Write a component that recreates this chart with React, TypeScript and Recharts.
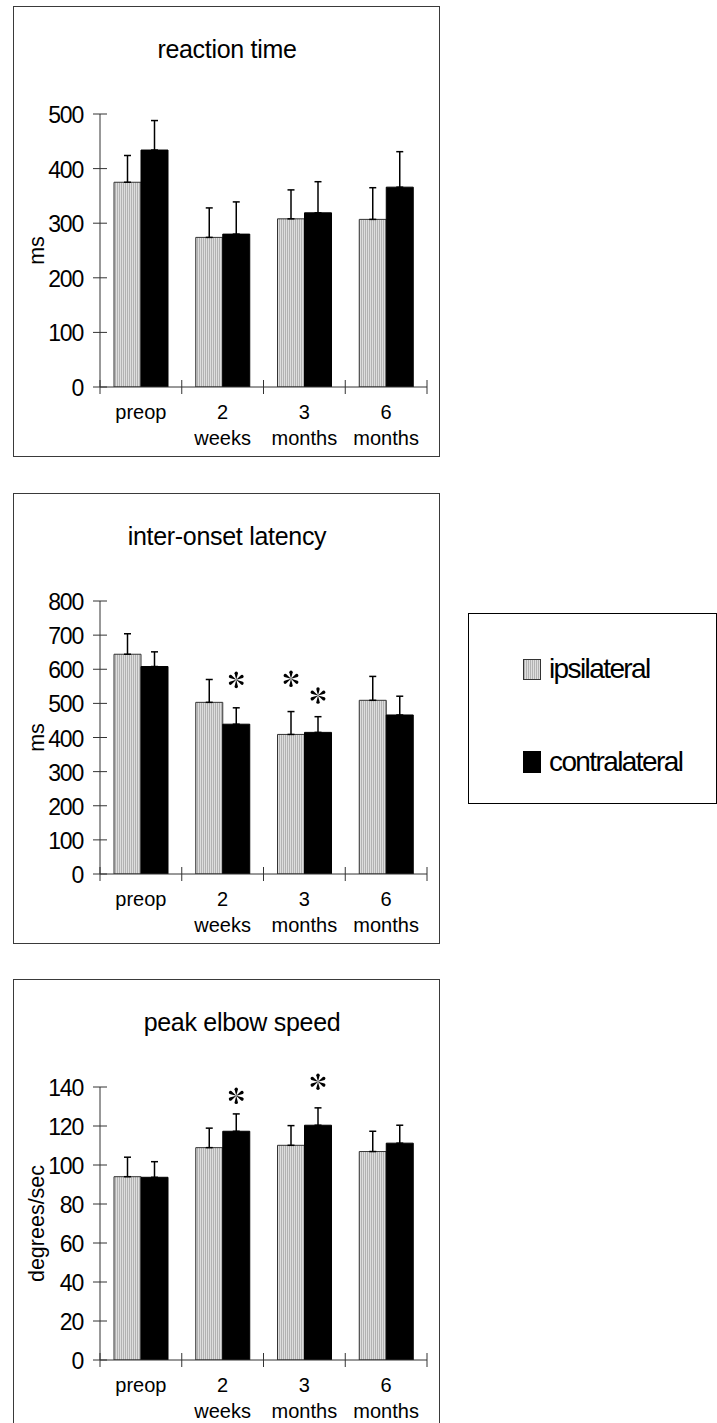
import React from 'react';
import { BarChart, Bar, XAxis, YAxis, ErrorBar, LabelList } from 'recharts';

// ---------- data ----------
const categories = ['preop', '2 weeks', '3 months', '6 months'];
const seriesNames = ['ipsilateral', 'contralateral'];

const reactionIpsi = [375, 274, 308, 307];
const reactionIpsiErr = [49, 54, 53, 58];
const reactionContra = [434, 280, 319, 366];
const reactionContraErr = [54, 59, 57, 65];
const reactionTicks = [0, 100, 200, 300, 400, 500];

const latencyIpsi = [644, 503, 409, 509];
const latencyIpsiErr = [60, 67, 67, 70];
const latencyContra = [608, 439, 415, 466];
const latencyContraErr = [43, 48, 46, 55];
const latencyIpsiStar = [null, null, 572, null];
const latencyContraStar = [null, 569, 523, null];
const latencyTicks = [0, 100, 200, 300, 400, 500, 600, 700, 800];

const speedIpsi = [94.0, 108.9, 110.1, 106.9];
const speedIpsiErr = [10.0, 10.0, 10.1, 10.4];
const speedContra = [93.7, 117.3, 120.4, 111.2];
const speedContraErr = [8.0, 8.9, 8.9, 9.2];
const speedContraStar = [null, 135.5, 142.7, null];
const speedTicks = [0, 20, 40, 60, 80, 100, 120, 140];

const noStars = [null, null, null, null];

function buildRows(ipsi: number[], ipsiErr: number[], contra: number[], contraErr: number[], ipsiStar: (number | null)[], contraStar: (number | null)[]) {
  return categories.map((c, i) => ({
    cat: c,
    ipsi: ipsi[i],
    ipsiErr: [0, ipsiErr[i]],
    contra: contra[i],
    contraErr: [0, contraErr[i]],
    ipsiStar: ipsiStar[i],
    contraStar: contraStar[i],
  }));
}

// ---------- layout ----------
const FONT = "'Liberation Sans', Arial, sans-serif";
const PANEL_W = 427;
const PANEL_H = 451;
const PLOT_LEFT = 87;
const PLOT_TOP = 108;
const PLOT_BOTTOM = 381;
const PLOT_RIGHT = 414;
const BAND = (PLOT_RIGHT - PLOT_LEFT) / categories.length;
const AXIS = '#333';
const HATCH_DARK = '#b2b2b2';
const HATCH_LIGHT = '#dedede';

const YTick = (props: any) => {
  const { x, y, payload } = props;
  return (
    <g>
      <line x1={x - 7} x2={x + 7} y1={y} y2={y} stroke={AXIS} strokeWidth={1} />
      <text x={x - 17} y={y + 9} textAnchor="end" fontSize={23} letterSpacing={-1.2} fontFamily={FONT} fill="#000">
        {payload.value}
      </text>
    </g>
  );
};

const XTick = (props: any) => {
  const { x, y, payload } = props;
  const label = String(payload.value);
  const sp = label.indexOf(' ');
  const lines = sp < 0 ? [label] : [label.slice(0, sp), label.slice(sp + 1)];
  const isLast = label === categories[categories.length - 1];
  const half = BAND / 2;
  return (
    <g>
      <line x1={x - half} x2={x - half} y1={y - 7} y2={y + 7} stroke={AXIS} strokeWidth={1} />
      {isLast && <line x1={x + half} x2={x + half} y1={y - 7} y2={y + 7} stroke={AXIS} strokeWidth={1} />}
      {lines.map((t, i) => (
        <text key={i} x={x} y={y + 32 + i * 26} textAnchor="middle" fontSize={20} fontFamily={FONT} fill="#000">
          {t}
        </text>
      ))}
    </g>
  );
};

const Asterisk = ({ cx, cy }: { cx: number; cy: number }) => (
  <g transform={`translate(${cx},${cy})`}>
    {[0, 60, 120, 180, 240, 300].map((a) => (
      <path key={a} d="M0,0 L-1.7,-6.6 A1.7,1.7 0 0 1 1.7,-6.6 Z" transform={`rotate(${a})`} fill="#000" />
    ))}
  </g>
);

const starRenderer = (rows: any[], valueKey: string, starKey: string) => (props: any) => {
  const vb = props.viewBox || props;
  const { x, y, width, height } = vb;
  const idx = props.index;
  const row = rows[idx];
  if (!row || row[starKey] == null) return null;
  const k = height / row[valueKey];
  const cy = y + height - row[starKey] * k;
  return <Asterisk cx={x + width / 2} cy={cy} />;
};

type PanelProps = {
  pid: string;
  top: number;
  title: string;
  titleX: number;
  yLabel: string;
  ticks: number[];
  rows: any[];
};

function Panel({ pid, top, title, titleX, yLabel, ticks, rows }: PanelProps) {
  const hatch = `hatch-${pid}`;
  return (
    <div style={{ position: 'absolute', left: 13, top, width: PANEL_W, height: PANEL_H }}>
      <div
        style={{
          position: 'absolute', left: 0, top: 0, width: PANEL_W, height: PANEL_H,
          border: '1px solid #3a3a3a', boxSizing: 'border-box',
        }}
      />
      <div style={{ position: 'absolute', left: 0, top: 0 }}>
        <BarChart
          width={PANEL_W}
          height={PANEL_H}
          data={rows}
          margin={{ top: PLOT_TOP, right: PANEL_W - PLOT_RIGHT, left: 0, bottom: PANEL_H - PLOT_BOTTOM - 60 }}
          barGap={0}
        >
          <defs>
            <pattern id={hatch} width={2} height={4} patternUnits="userSpaceOnUse">
              <rect width={2} height={4} fill={HATCH_LIGHT} />
              <rect width={1} height={4} fill={HATCH_DARK} />
            </pattern>
          </defs>
          <XAxis
            dataKey="cat"
            height={60}
            interval={0}
            tickSize={0}
            tickMargin={0}
            tickLine={false}
            axisLine={{ stroke: AXIS, strokeWidth: 1 }}
            tick={<XTick />}
          />
          <YAxis
            width={PLOT_LEFT}
            domain={[ticks[0], ticks[ticks.length - 1]]}
            ticks={ticks}
            interval={0}
            allowDataOverflow
            tickSize={0}
            tickMargin={0}
            tickLine={false}
            axisLine={{ stroke: AXIS, strokeWidth: 1 }}
            tick={<YTick />}
            label={{
              content: (p: any) => {
                const vb = p.viewBox || {};
                const cx = 23.7;
                const cy = (vb.y ?? PLOT_TOP) + (vb.height ?? PLOT_BOTTOM - PLOT_TOP) / 2;
                return (
                  <text x={cx} y={cy} transform={`rotate(-90 ${cx} ${cy})`} textAnchor="middle" dominantBaseline="central" fontSize={21.5} fontFamily={FONT} fill="#000">
                    {yLabel}
                  </text>
                );
              },
            }}
          />
          <Bar dataKey="ipsi" name={seriesNames[0]} fill={`url(#${hatch})`} stroke="#333" strokeWidth={1} barSize={27} isAnimationActive={false}>
            <ErrorBar dataKey="ipsiErr" direction="y" width={3.5} stroke="#000" strokeWidth={1.5} />
            <LabelList dataKey="ipsi" content={starRenderer(rows, 'ipsi', 'ipsiStar')} />
          </Bar>
          <Bar dataKey="contra" name={seriesNames[1]} fill="#000" stroke="#000" strokeWidth={1} barSize={27} isAnimationActive={false}>
            <ErrorBar dataKey="contraErr" direction="y" width={3.5} stroke="#000" strokeWidth={1.5} />
            <LabelList dataKey="contra" content={starRenderer(rows, 'contra', 'contraStar')} />
          </Bar>
        </BarChart>
      </div>
      <svg width={PANEL_W} height={PANEL_H} style={{ position: 'absolute', left: 0, top: 0, pointerEvents: 'none' }}>
        <text x={titleX} y={52} textAnchor="middle" fontSize={25} letterSpacing={-0.3} fontFamily={FONT} fill="#000">
          {title}
        </text>
      </svg>
    </div>
  );
}

function LegendBox() {
  return (
    <svg width={249} height={191} style={{ position: 'absolute', left: 468, top: 613 }}>
      <defs>
        <pattern id="hatch-legend" width={2} height={4} patternUnits="userSpaceOnUse">
          <rect width={2} height={4} fill={HATCH_LIGHT} />
          <rect width={1} height={4} fill={HATCH_DARK} />
        </pattern>
      </defs>
      <rect x={0.5} y={0.5} width={248} height={190} fill="#fff" stroke="#000" strokeWidth={1} />
      <rect x={55.5} y={46.5} width={17} height={20} fill="url(#hatch-legend)" stroke="#333" strokeWidth={1} />
      <text x={81} y={65.3} fontSize={28} letterSpacing={-1.6} fontFamily={FONT} fill="#000">{seriesNames[0]}</text>
      <rect x={55.5} y={138.5} width={17} height={21} fill="#000" stroke="#000" strokeWidth={1} />
      <text x={81} y={157.7} fontSize={28} letterSpacing={-1.6} fontFamily={FONT} fill="#000">{seriesNames[1]}</text>
    </svg>
  );
}

const reactionRows = buildRows(reactionIpsi, reactionIpsiErr, reactionContra, reactionContraErr, noStars, noStars);
const latencyRows = buildRows(latencyIpsi, latencyIpsiErr, latencyContra, latencyContraErr, latencyIpsiStar, latencyContraStar);
const speedRows = buildRows(speedIpsi, speedIpsiErr, speedContra, speedContraErr, noStars, speedContraStar);

export default function App() {
  return (
    <div style={{ position: 'absolute', left: 0, top: 0, width: 717, height: 1423, overflow: 'hidden', background: '#fff' }}>
      <Panel pid="p1" top={6} title="reaction time" titleX={214} yLabel="ms" ticks={reactionTicks} rows={reactionRows} />
      <Panel pid="p2" top={493} title="inter-onset latency" titleX={214} yLabel="ms" ticks={latencyTicks} rows={latencyRows} />
      <Panel pid="p3" top={979} title="peak elbow speed" titleX={229} yLabel="degrees/sec" ticks={speedTicks} rows={speedRows} />
      <LegendBox />
    </div>
  );
}
